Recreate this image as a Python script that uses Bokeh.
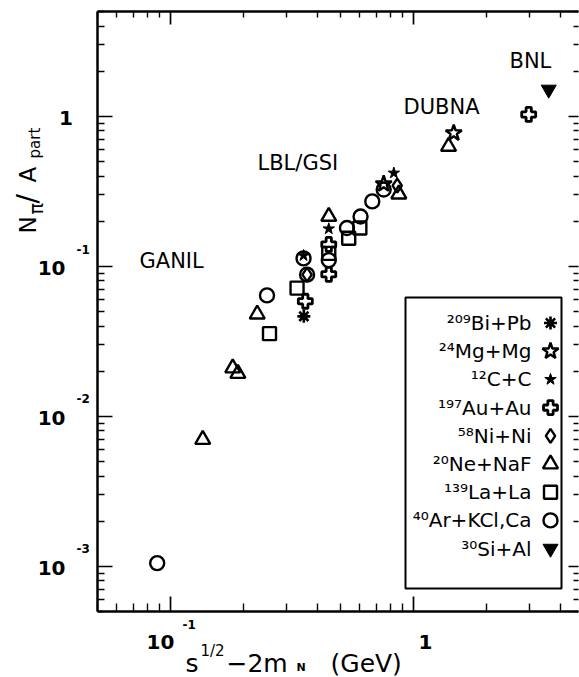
import numpy as np
from bokeh.plotting import figure
from bokeh.models import LogAxis, FixedTicker, CustomJSTickFormatter, Label, BoxAnnotation
from bokeh.embed import file_html
from bokeh.resources import INLINE

# Pion multiplicity per participant vs. available energy, per colliding system
bipb_x = [0.353]
bipb_y = [0.0464]
mgmg_x = [0.752, 1.46]
mgmg_y = [0.354, 0.774]
cc_x = [0.352, 0.447, 0.828]
cc_y = [0.118, 0.178, 0.419]
auau_x = [0.358, 0.447, 0.447, 2.97]
auau_y = [0.0585, 0.0885, 0.140, 1.03]
nini_x = [0.364, 0.855]
nini_y = [0.088, 0.345]
nenaf_x = [0.1355, 0.180, 0.189, 0.227, 0.447, 0.868, 1.39]
nenaf_y = [0.0070, 0.0210, 0.0193, 0.048, 0.215, 0.303, 0.63]
lala_x = [0.255, 0.331, 0.447, 0.540, 0.600]
lala_y = [0.0356, 0.0716, 0.122, 0.154, 0.180]
ar_x = [0.088, 0.249, 0.352, 0.364, 0.447, 0.531, 0.604, 0.675, 0.752]
ar_y = [1.05e-3, 0.064, 0.113, 0.088, 0.110, 0.180, 0.215, 0.271, 0.325]
sial_x = [3.59]
sial_y = [1.51]

legend_labels = ["²⁰⁹Bi+Pb", "²⁴Mg+Mg", "¹²C+C", "¹⁹⁷Au+Au", "⁵⁸Ni+Ni",
                 "²⁰Ne+NaF", "¹³⁹La+La", "⁴⁰Ar+KCl,Ca", "³⁰Si+Al"]
facility_labels = ["GANIL", "LBL/GSI", "DUBNA", "BNL"]

# axis box limits (data) and its placement on the canvas (px)
X_START, X_END = 0.05, 4.76
Y_START, Y_END = 5e-4, 5.0
W, H = 579, 677
AX_L, AX_T, AX_W, AX_H = 97, 11, 481, 600

FONT = "DejaVu Sans"

# the frame fills the whole canvas; the axes sit at fixed data locations
lx0, lx1 = np.log10(X_START), np.log10(X_END)
ly0, ly1 = np.log10(Y_START), np.log10(Y_END)
dec_x = AX_W / (lx1 - lx0)
dec_y = AX_H / (ly1 - ly0)
cx0 = lx0 - AX_L / dec_x
cx1 = lx1 + (W - AX_L - AX_W) / dec_x
cy1 = ly1 + AX_T / dec_y
cy0 = ly0 - (H - AX_T - AX_H) / dec_y

p = figure(width=W, height=H, x_axis_type="log", y_axis_type="log",
           x_range=(10 ** cx0, 10 ** cx1), y_range=(10 ** cy0, 10 ** cy1),
           output_backend="svg", toolbar_location=None,
           min_border_left=0, min_border_right=0, min_border_top=0, min_border_bottom=0)
p.grid.visible = False
p.outline_line_color = None
p.background_fill_color = "white"
p.border_fill_color = "white"


def dx(px):
    return 10 ** (cx0 + px / W * (cx1 - cx0))


def dy(py):
    return 10 ** (cy1 - py / H * (cy1 - cy0))


# ticks: decades plus 2..9 minors
x_major = [0.1, 1.0]
x_minor = [m * 10.0 ** e for e in (-2, -1, 0) for m in range(2, 10)]
x_minor = [v for v in x_minor if X_START <= v <= X_END]
y_major = [1e-3, 1e-2, 1e-1, 1.0]
y_minor = [m * 10.0 ** e for e in (-4, -3, -2, -1, 0) for m in range(2, 10)]
y_minor = [v for v in y_minor if Y_START <= v <= Y_END]

blank = CustomJSTickFormatter(code="return ''")


def style_axis(ax, major, minor, bounds, loc, maj_in, min_in, show_line=True):
    ax.ticker = FixedTicker(ticks=major, minor_ticks=minor)
    ax.formatter = blank
    ax.bounds = bounds
    ax.fixed_location = loc
    ax.major_label_text_font_size = "0px"
    ax.major_label_standoff = 0
    ax.major_tick_in = maj_in
    ax.major_tick_out = 0
    ax.minor_tick_in = min_in
    ax.minor_tick_out = 0
    ax.major_tick_line_width = 1.7
    ax.minor_tick_line_width = 1.4
    ax.major_tick_line_color = "black"
    ax.minor_tick_line_color = "black"
    ax.axis_line_width = 2.5 if show_line else 0
    ax.axis_line_color = "black" if show_line else None


style_axis(p.xaxis[0], x_major, x_minor, (X_START, X_END), Y_START, 15, 8)
style_axis(p.yaxis[0], y_major, y_minor, (Y_START, Y_END), X_START, 15, 7)
top = LogAxis()
style_axis(top, x_major, x_minor, (X_START, X_END), Y_END, 13, 6)
p.add_layout(top, "above")
right = LogAxis()
style_axis(right, y_major, y_minor, (Y_START, Y_END), X_END, 10, 5, show_line=False)
p.add_layout(right, "right")

# marker styles per system
series = [
    (bipb_x, bipb_y, dict(marker="asterisk", size=13, line_width=2.6, fill_color=None)),
    (mgmg_x, mgmg_y, dict(marker="star", size=17, line_width=2.4, fill_color=None)),
    (cc_x, cc_y, dict(marker="star", size=12, line_width=1, fill_color="black")),
    (auau_x, auau_y, dict(marker="plus", size=14, line_width=2.8, fill_color=None)),
    (nini_x, nini_y, dict(marker="diamond", size=14, line_width=2.4, fill_color=None)),
    (nenaf_x, nenaf_y, dict(marker="triangle", size=15, line_width=2.4, fill_color=None)),
    (lala_x, lala_y, dict(marker="square", size=13, line_width=2.4, fill_color=None)),
    (ar_x, ar_y, dict(marker="circle", size=14, line_width=2.4, fill_color=None)),
    (sial_x, sial_y, dict(marker="inverted_triangle", size=15, line_width=1, fill_color="black")),
]

for xs, ys, st in series:
    p.scatter(xs, ys, line_color="black", **st)


def put(text, px, py, size, bold=False, align="left", angle=0.0):
    # (px, py) is the start (or aligned edge) of the text and its vertical middle
    p.add_layout(Label(x=dx(px), y=dy(py), text=text, text_font=FONT,
                       text_font_size=f"{size}px",
                       text_font_style="bold" if bold else "normal",
                       text_align=align, text_baseline="middle",
                       angle=angle, text_color="black"))


# facility annotations
put(facility_labels[0], 139, 260, 21)
put(facility_labels[1], 257, 162.5, 21)
put(facility_labels[2], 403, 106.5, 21)
put(facility_labels[3], 509, 60, 21)

# legend box with labels on the left and samples on the right
p.add_layout(BoxAnnotation(left=dx(405), right=dx(561), bottom=dy(588), top=dy(297),
                           fill_color=None, line_color="black", line_alpha=1.0,
                           line_width=2))
row0, step = 322.5, 28.2
for i, (lab, (xs, ys, st)) in enumerate(zip(legend_labels, series)):
    cy = row0 + i * step
    put(lab, 531, cy, 20, align="right")
    p.scatter([dx(550)], [dy(cy)], line_color="black", **st)

# y tick labels: 1, 10^-1, 10^-2, 10^-3
put("1", 65.5, 117.5, 20, bold=True, align="center")
for exp_txt, tick_py in (("-1", 265.7), ("-2", 415.0), ("-3", 565.0)):
    put("10", 65, tick_py + 2, 20, bold=True, align="right")
    put(exp_txt, 76, tick_py - 17, 12, bold=True)

# x tick labels: 10^-1, 1
put("10", 160, 641, 20, bold=True, align="center")
put("-1", 182, 624, 12, bold=True)
put("1", 425, 641, 20, bold=True, align="center")

# x axis title: s^{1/2} - 2 m_N (GeV)
put("s", 185, 663, 25)
put("1/2", 200, 650, 15)
put("\u22122m", 226, 663, 25)
put("N", 296, 667, 11, bold=True)
put("(GeV)", 330, 663, 25)

# y axis title: N_pi / A_part (rotated)
rot = np.pi / 2
put("N", 27, 233, 23, angle=rot)
put("\u03c0", 35, 214, 19, angle=rot)
put("/", 27, 203, 28, angle=rot)
put("A", 27, 182, 23, angle=rot)
put("part", 34, 158, 15, angle=rot)

open("out.html", "w").write(file_html(p, INLINE))
